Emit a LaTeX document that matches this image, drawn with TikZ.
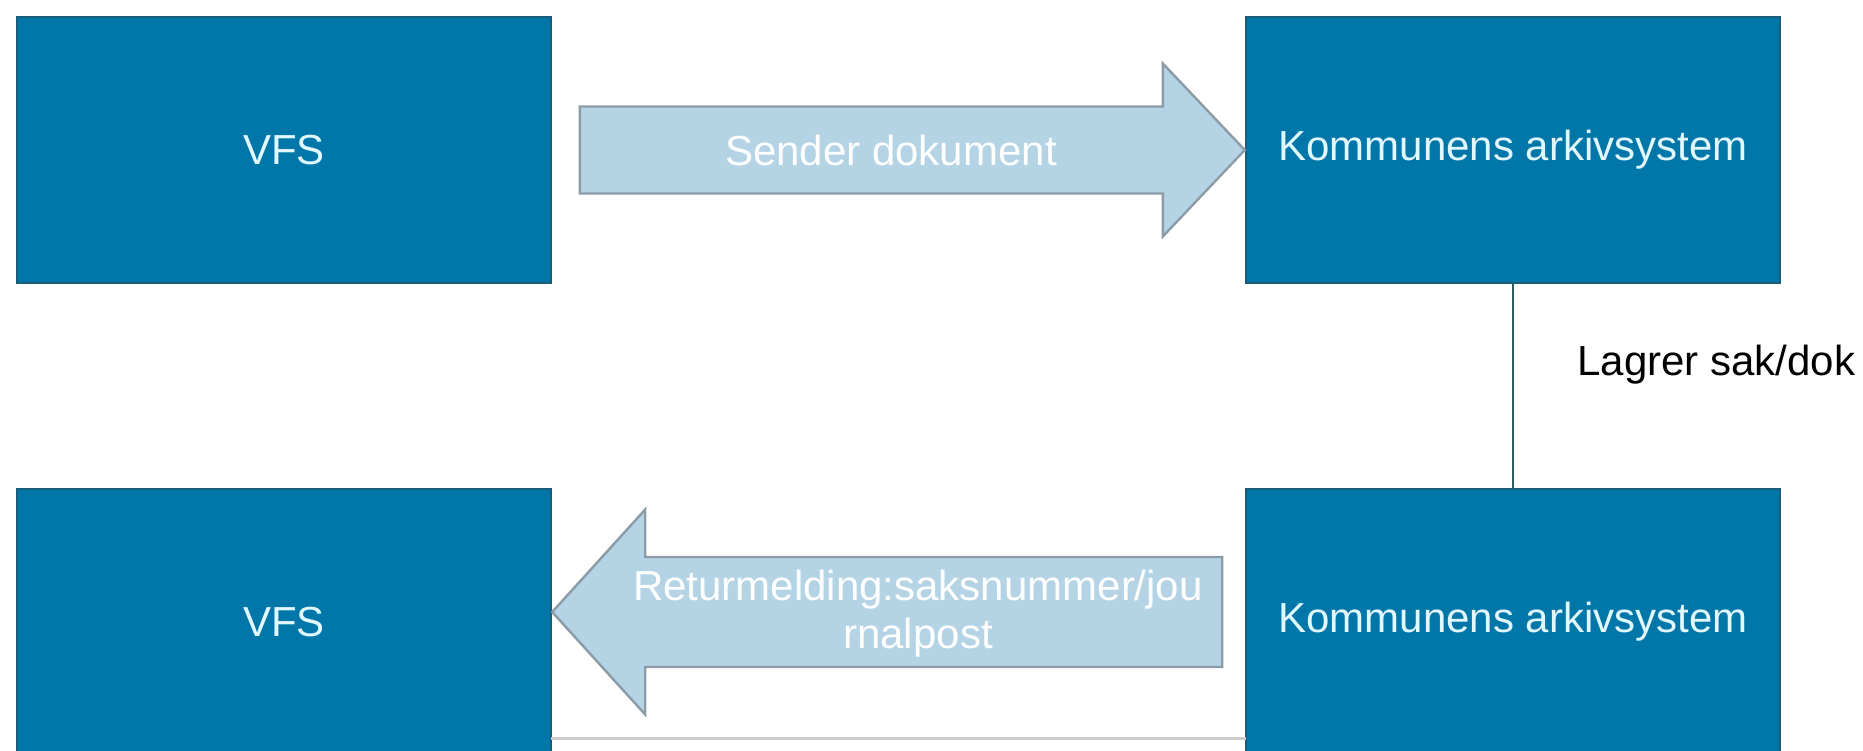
\documentclass[tikz,border=0pt]{standalone}
\usepackage{fontspec}
\setmainfont{Liberation Sans}
\usetikzlibrary{calc}
\definecolor{boksblaa}{HTML}{0077A8}
\definecolor{kantblaa}{HTML}{1B5C7A}
\definecolor{lystekst}{HTML}{E2F8FF}
\definecolor{pilblaa}{HTML}{B4D4E6}
\definecolor{pilkant}{HTML}{8C9CA6}
\definecolor{linjefarge}{HTML}{2F5A68}
\begin{document}
\begin{tikzpicture}[x=0.5pt,y=-0.5pt]
    \tikzset{boks/.style={draw=kantblaa, fill=boksblaa, line width=1.2pt, minimum width=267pt, minimum height=133pt, inner sep=0pt, text=lystekst, font=\fontsize{21pt}{24pt}\selectfont}}
    \tikzset{pil/.style={draw=pilkant, fill=pilblaa, line width=1.2pt, line join=miter}}
    \tikzset{piltekst/.style={text=white, align=center, inner sep=0pt, font=\fontsize{21pt}{24pt}\selectfont}}
    \tikzset{linje/.style={draw=linjefarge, line width=1.3pt}}
    \useasboundingbox (0,0) rectangle (1863,750);
    \node[boks] (vfsA) at (284,150) {VFS};
    \node[boks] (arkivA) at (1513,150) {Kommunens arkivsystem};
    \node[boks] (vfsB) at (284,622) {VFS};
    \node[boks] (arkivB) at (1513,622) {Kommunens arkivsystem};
    \draw[pil] (arkivA.west) -- ++(-82,-86.5) -- ++(0,43) -- ++(-583,0) -- ++(0,87) -- ++(583,0) -- ++(0,43) -- cycle;
    \node[piltekst] (sender) at (891,150) {Sender dokument};
    \draw[pil] ($(vfsB.east)+(0,-10)$) -- ++(93,-102.5) -- ++(0,47.5) -- ++(577,0) -- ++(0,110) -- ++(-577,0) -- ++(0,47.5) -- cycle;
    \node[piltekst] (retur) at (918,614) {Returmelding:saksnummer/jou\\rnalpost};
    \draw[linje] (arkivA) -- (arkivB);
    \node[anchor=west, inner sep=0pt, font=\fontsize{21pt}{24pt}\selectfont] (lagrer) at (1577,365) {Lagrer sak/dok};
    \draw[draw=black!20, line width=1.5pt] (551,738) -- (1246,738);
  \end{tikzpicture}
\end{document}
